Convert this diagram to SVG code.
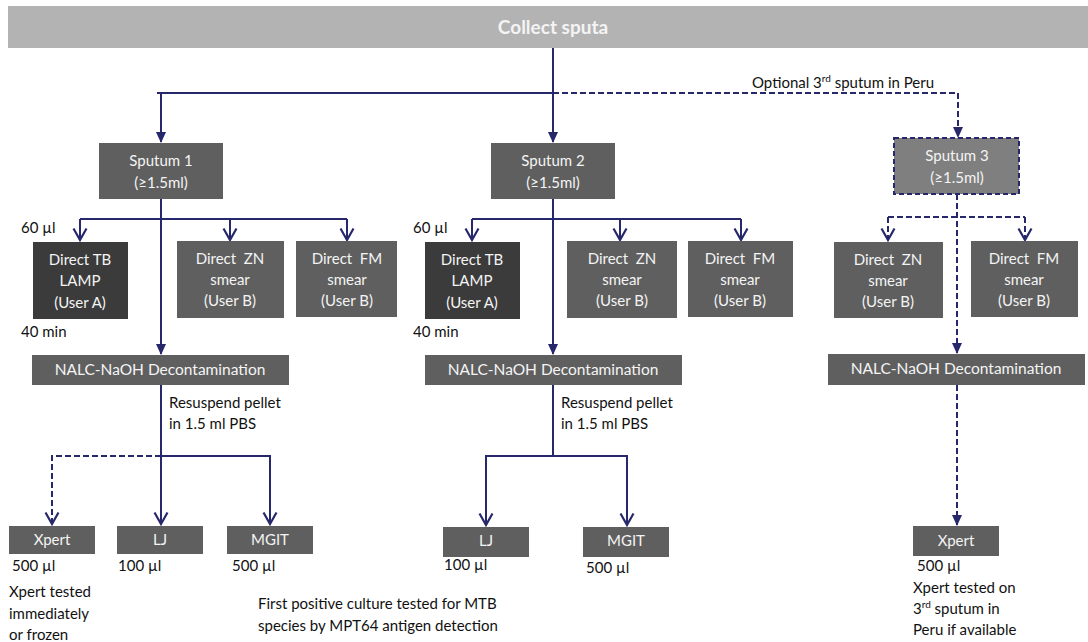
<svg xmlns="http://www.w3.org/2000/svg" width="1088" height="642" viewBox="0 0 1088 642">
<style>
.box{fill:#5f5f5f}
.dark{fill:#3b3b3b}
.t{font-family:Lato,"Open Sans",sans-serif;font-size:15px;fill:#f4f4f4;text-anchor:middle}
.big{font-size:19px;font-weight:bold}
.n{font-size:15.5px}
.l{font-family:Lato,"Open Sans",sans-serif;font-size:15px;fill:#111111}
.ln{fill:none;stroke:#27286b;stroke-width:2}
.ds{fill:none;stroke:#27286b;stroke-width:2;stroke-dasharray:6,3}
</style>
<defs>
<marker id="tr" markerWidth="12" markerHeight="12" refX="10" refY="6" orient="auto" markerUnits="userSpaceOnUse" viewBox="0 0 12 12">
<path d="M0,1 L11,6 L0,11 Z" fill="#27286b"/>
</marker>
<marker id="op" markerWidth="16" markerHeight="16" refX="13" refY="8" orient="auto" markerUnits="userSpaceOnUse" viewBox="0 0 16 16">
<path d="M1.5,1.5 L13,8 L1.5,14.5" fill="none" stroke="#27286b" stroke-width="2.2"/>
</marker>
</defs>

<g id="connectors">
<line class="ln" x1="553" y1="48" x2="553" y2="93"/>
<line class="ln" x1="157" y1="93" x2="553" y2="93" stroke-width="2.6"/>
<path class="ln" d="M161,93 V142" marker-end="url(#tr)"/>
<path class="ln" d="M553,93 V142" marker-end="url(#tr)"/>
<path class="ds" d="M553,93 H958 V137" marker-end="url(#tr)"/>
<path class="ln" d="M161,199 V354" marker-end="url(#tr)"/>
<path class="ln" d="M80,219 H347"/>
<path class="ln" d="M80,219 V240" marker-end="url(#op)"/>
<path class="ln" d="M230,219 V240" marker-end="url(#op)"/>
<path class="ln" d="M347,219 V240" marker-end="url(#op)"/>
<path class="ln" d="M161,385 V456 H270 V524" marker-end="url(#op)"/>
<path class="ln" d="M161,456 V524" marker-end="url(#op)"/>
<path class="ds" d="M161,456 H52 V524" marker-end="url(#op)"/>
<path class="ln" d="M553,199 V354" marker-end="url(#tr)"/>
<path class="ln" d="M472,219 H741"/>
<path class="ln" d="M472,219 V240" marker-end="url(#op)"/>
<path class="ln" d="M620,219 V240" marker-end="url(#op)"/>
<path class="ln" d="M741,219 V240" marker-end="url(#op)"/>
<path class="ln" d="M553,385 V456 H627 V525" marker-end="url(#op)"/>
<path class="ln" d="M553,456 H486 V525" marker-end="url(#op)"/>
<path class="ds" d="M957,194 V353" marker-end="url(#tr)"/>
<path class="ds" d="M888,217 H1025"/>
<path class="ds" d="M888,217 V240" marker-end="url(#op)"/>
<path class="ds" d="M1025,217 V240" marker-end="url(#op)"/>
<path class="ds" d="M957,385 V525" marker-end="url(#tr)"/>
</g>

<g id="collect">
<rect x="8" y="6" width="1080" height="42" fill="#b3b3b3"/>
<text class="t big" x="553" y="34">Collect sputa</text>
</g>
<text class="l" x="752" y="88">Optional 3<tspan font-size="10" dy="-6">rd</tspan><tspan dy="6"> sputum in Peru</tspan></text>

<g id="sputum1">
<rect class="box" x="99" y="143" width="124" height="56"/>
<text class="t" x="161" y="166">Sputum 1</text>
<text class="t" x="161" y="188">(≥1.5ml)</text>
</g>
<g id="sputum2">
<rect class="box" x="491" y="143" width="124" height="56"/>
<text class="t" x="553" y="166">Sputum 2</text>
<text class="t" x="553" y="188">(≥1.5ml)</text>
</g>
<g id="sputum3">
<rect x="894" y="138" width="125" height="56" fill="#7f7f7f" stroke="#27286b" stroke-width="2" stroke-dasharray="5,3"/>
<text class="t" x="957" y="161">Sputum 3</text>
<text class="t" x="957" y="183">(≥1.5ml)</text>
</g>

<text class="l" x="21" y="233">60 µl</text>
<text class="l" x="21" y="337">40 min</text>
<text class="l" x="413" y="233">60 µl</text>
<text class="l" x="413" y="337">40 min</text>

<g id="lamp1">
<rect class="dark" x="33" y="242" width="95" height="77"/>
<text class="t" x="80" y="265">Direct TB</text>
<text class="t" x="80" y="286">LAMP</text>
<text class="t" x="80" y="308">(User A)</text>
</g>
<g id="zn1">
<rect class="box" x="177" y="241" width="107" height="77"/>
<text class="t" x="230" y="264">Direct&#160; ZN</text>
<text class="t" x="230" y="285">smear</text>
<text class="t" x="230" y="306">(User B)</text>
</g>
<g id="fm1">
<rect class="box" x="296" y="241" width="101" height="76"/>
<text class="t" x="347" y="264">Direct&#160; FM</text>
<text class="t" x="347" y="285">smear</text>
<text class="t" x="347" y="306">(User B)</text>
</g>
<g id="lamp2">
<rect class="dark" x="425" y="242" width="95" height="77"/>
<text class="t" x="472" y="265">Direct TB</text>
<text class="t" x="472" y="286">LAMP</text>
<text class="t" x="472" y="308">(User A)</text>
</g>
<g id="zn2">
<rect class="box" x="567" y="241" width="110" height="77"/>
<text class="t" x="622" y="264">Direct&#160; ZN</text>
<text class="t" x="622" y="285">smear</text>
<text class="t" x="622" y="306">(User B)</text>
</g>
<g id="fm2">
<rect class="box" x="688" y="241" width="105" height="76"/>
<text class="t" x="740" y="264">Direct&#160; FM</text>
<text class="t" x="740" y="285">smear</text>
<text class="t" x="740" y="306">(User B)</text>
</g>
<g id="zn3">
<rect class="box" x="834" y="242" width="109" height="76"/>
<text class="t" x="888" y="265">Direct&#160; ZN</text>
<text class="t" x="888" y="286">smear</text>
<text class="t" x="888" y="307">(User B)</text>
</g>
<g id="fm3">
<rect class="box" x="971" y="241" width="107" height="76"/>
<text class="t" x="1024" y="264">Direct&#160; FM</text>
<text class="t" x="1024" y="285">smear</text>
<text class="t" x="1024" y="306">(User B)</text>
</g>

<g id="nalc1">
<rect class="box" x="32" y="355" width="257" height="30"/>
<text class="t n" x="160" y="375">NALC-NaOH Decontamination</text>
</g>
<g id="nalc2">
<rect class="box" x="425" y="355" width="257" height="30"/>
<text class="t n" x="553" y="375">NALC-NaOH Decontamination</text>
</g>
<g id="nalc3">
<rect class="box" x="828" y="354" width="257" height="31"/>
<text class="t n" x="956" y="374">NALC-NaOH Decontamination</text>
</g>

<text class="l" x="169" y="408">Resuspend pellet</text>
<text class="l" x="169" y="429">in 1.5 ml PBS</text>
<text class="l" x="561" y="408">Resuspend pellet</text>
<text class="l" x="561" y="429">in 1.5 ml PBS</text>

<g id="xpert1">
<rect class="box" x="9" y="526" width="86" height="28"/>
<text class="t" x="52" y="545">Xpert</text>
</g>
<g id="lj1">
<rect class="box" x="117" y="526" width="86" height="28"/>
<text class="t" x="160" y="545">LJ</text>
</g>
<g id="mgit1">
<rect class="box" x="227" y="526" width="86" height="28"/>
<text class="t" x="270" y="545">MGIT</text>
</g>
<g id="lj2">
<rect class="box" x="443" y="527" width="86" height="30"/>
<text class="t" x="486" y="546">LJ</text>
</g>
<g id="mgit2">
<rect class="box" x="583" y="527" width="86" height="30"/>
<text class="t" x="626" y="546">MGIT</text>
</g>
<g id="xpert3">
<rect class="box" x="913" y="526" width="86" height="30"/>
<text class="t" x="956" y="546">Xpert</text>
</g>

<text class="l" x="12" y="571">500 µl</text>
<text class="l" x="118" y="571">100 µl</text>
<text class="l" x="232" y="571">500 µl</text>
<text class="l" x="444" y="570">100 µl</text>
<text class="l" x="586" y="573">500 µl</text>
<text class="l" x="917" y="571">500 µl</text>

<text class="l" x="9" y="597">Xpert tested</text>
<text class="l" x="9" y="619">immediately</text>
<text class="l" x="9" y="640">or frozen</text>

<text class="l" x="258" y="609">First positive culture tested for MTB</text>
<text class="l" x="258" y="631">species by MPT64 antigen detection</text>

<text class="l" x="913" y="593">Xpert tested on</text>
<text class="l" x="913" y="614">3<tspan font-size="10" dy="-6">rd</tspan><tspan dy="6"> sputum in</tspan></text>
<text class="l" x="913" y="635">Peru if available</text>
</svg>
